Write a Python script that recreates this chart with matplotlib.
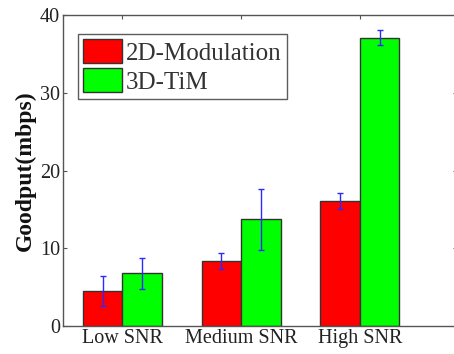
import matplotlib
matplotlib.use("Agg")
import matplotlib.pyplot as plt
import numpy as np

categories = ["Low SNR", "Medium SNR", "High SNR"]
series_names = ["2D-Modulation", "3D-TiM"]
mod2d = [4.5, 8.35, 16.1]
mod2d_err = [1.95, 1.0, 1.05]
tim3d = [6.8, 13.7, 37.1]
tim3d_err = [2.0, 3.95, 1.0]
yticks = [0, 10, 20, 30, 40]

plt.rcParams['font.family'] = ['Liberation Serif', 'DejaVu Serif']

fig = plt.figure(figsize=(4.54, 3.54), dpi=100)
ax = fig.add_axes([63/454, 28/354, (457-63)/454, (326-15)/354])

x = np.arange(1, len(categories) + 1)
w = 0.333
edge = '#333333'
ax.bar(x - w/2, mod2d, w, color='#ff0000', edgecolor=edge, linewidth=1.0, label=series_names[0], zorder=2)
ax.bar(x + w/2, tim3d, w, color='#00ff00', edgecolor=edge, linewidth=1.0, label=series_names[1], zorder=2)
ax.errorbar(x - w/2, mod2d, yerr=mod2d_err, fmt='none', ecolor='#2a2aff', elinewidth=1.0, capsize=2.5, capthick=1.0, zorder=3)
ax.errorbar(x + w/2, tim3d, yerr=tim3d_err, fmt='none', ecolor='#2a2aff', elinewidth=1.0, capsize=2.5, capthick=1.0, zorder=3)

ax.set_xlim(0.5, 0.5 + (457-63)/118.7)
ax.set_ylim(0, 40)
ax.set_xticks(x)
ax.set_xticklabels(categories)
ax.set_yticks(yticks)
ax.tick_params(direction='in', top=True, right=True, length=3, width=0.8, colors='#555555',
               labelcolor='#222222', labelsize=14.5, pad=2)
for s in ax.spines.values():
    s.set_color('#555555')
    s.set_linewidth(1.0)

ax.set_ylabel('Goodput(mbps)', fontsize=17, fontweight='bold', color='#111111', labelpad=3)

leg = ax.legend(loc='upper left', bbox_to_anchor=(0.038, 0.94), fontsize=18, frameon=True, fancybox=False,
                edgecolor='#333333', handlelength=1.55, handleheight=1.1, handletextpad=0.15,
                borderpad=0.22, labelspacing=0.15, borderaxespad=0)
leg.get_frame().set_linewidth(1.0)
for t in leg.get_texts():
    t.set_color('#333333')

fig.savefig('out.png', dpi=100)
